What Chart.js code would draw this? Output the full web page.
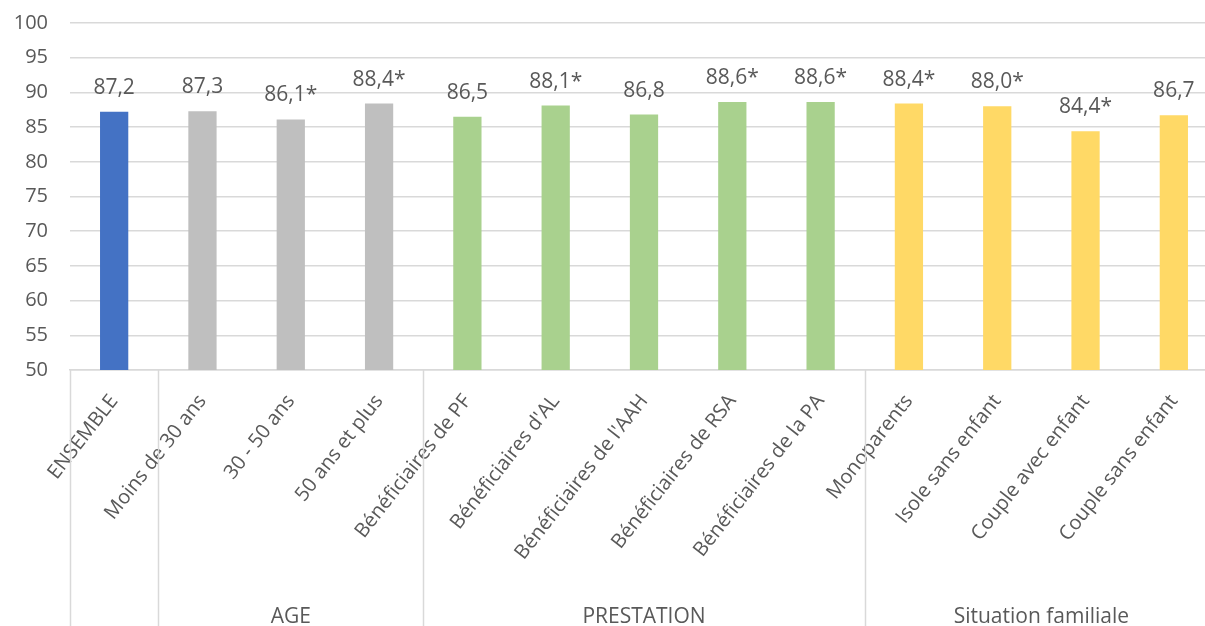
<!DOCTYPE html>
<html>
<head>
<meta charset="utf-8">
<script src="https://cdn.jsdelivr.net/npm/chart.js@4"></script>
<style>
  html, body { margin: 0; padding: 0; background: #fff; overflow: hidden; }
  #wrap { width: 1218px; height: 626px; position: relative; }
</style>
</head>
<body>
<div id="wrap"><canvas id="chart"></canvas></div>
<script>
// DATA
const categories = [
    "ENSEMBLE",
    "Moins de 30 ans", "30 - 50 ans", "50 ans et plus",
    "Bénéficiaires de PF", "Bénéficiaires d'AL", "Bénéficiaires de l'AAH", "Bénéficiaires de RSA", "Bénéficiaires de la PA",
    "Monoparents", "Isole sans enfant", "Couple avec enfant", "Couple sans enfant"
];
const values = [87.2, 87.3, 86.1, 88.4, 86.5, 88.1, 86.8, 88.6, 88.6, 88.4, 88.0, 84.4, 86.7];
const significant = [false, false, true, true, false, true, false, true, true, true, true, true, false];
const groupLabels = ["", "AGE", "PRESTATION", "Situation familiale"];
const groupSizes = [1, 3, 5, 4];
const groupColors = ["#4472C4", "#BFBFBF", "#A9D18E", "#FFD966"];

const yMin = 50, yMax = 100, yStep = 5;

// colour per bar from its group
let barColors = [];
groupSizes.forEach((n, g) => {
    for (let i = 0; i < n; i++) barColors.push(groupColors[g]);
});

const textColor = "#595959";
const lineColor = "#D9D9D9";
const fontFamily = "'Open Sans', 'Liberation Sans', sans-serif";

// VALUE LABELS
const valueLabels = {
    id: "valueLabels",
    afterDatasetsDraw(chart) {
        const ctx = chart.ctx;
        const meta = chart.getDatasetMeta(0);
        ctx.save();
        ctx.fillStyle = textColor;
        ctx.font = "21px " + fontFamily;
        ctx.textAlign = "center";
        ctx.textBaseline = "alphabetic";
        meta.data.forEach((bar, i) => {
            let txt = values[i].toFixed(1).replace(".", ",") + (significant[i] ? "*" : "");
            ctx.fillText(txt, bar.x, bar.y - 18);
        });
        ctx.restore();
    }
};

// GROUP SEPARATORS + GROUP NAMES
const groupAxis = {
    id: "groupAxis",
    afterDraw(chart) {
        const ctx = chart.ctx;
        const x = chart.scales.x;
        const area = chart.chartArea;
        const step = (x.right - x.left) / categories.length;
        ctx.save();
        ctx.strokeStyle = lineColor;
        ctx.lineWidth = 1.5;
        let idx = 0;
        let bounds = [0];
        groupSizes.forEach(n => { idx += n; bounds.push(idx); });
        bounds.forEach(b => {
            let px = Math.round(x.left + b * step) + 0.5;
            ctx.beginPath();
            ctx.moveTo(px, area.bottom);
            ctx.lineTo(px, chart.height);
            ctx.stroke();
        });
        ctx.fillStyle = textColor;
        ctx.font = "21px " + fontFamily;
        ctx.textAlign = "center";
        ctx.textBaseline = "middle";
        groupLabels.forEach((lbl, g) => {
            if (!lbl) return;
            let mid = x.left + (bounds[g] + bounds[g + 1]) / 2 * step;
            ctx.fillText(lbl, mid, 617);
        });
        ctx.restore();
    }
};

new Chart(document.getElementById("chart"), {
    type: "bar",
    data: {
        labels: categories,
        datasets: [{
            data: values,
            backgroundColor: barColors,
            borderWidth: 0,
            barPercentage: 0.32,
            categoryPercentage: 1
        }]
    },
    options: {
        responsive: true,
        maintainAspectRatio: false,
        animation: false,
        layout: { padding: { top: 23, left: 0, right: 0, bottom: 0 } },
        plugins: {
            legend: { display: false },
            tooltip: { enabled: false }
        },
        scales: {
            x: {
                grid: { display: false, drawTicks: false },
                border: { color: lineColor, width: 1.5 },
                ticks: {
                    color: textColor,
                    font: { size: 20, family: fontFamily },
                    minRotation: 52,
                    maxRotation: 52,
                    autoSkip: false,
                    padding: 20
                },
                afterFit: s => { s.height = 256; }
            },
            y: {
                min: yMin,
                max: yMax,
                grid: { color: lineColor, lineWidth: 1.5, drawTicks: false },
                border: { display: false },
                ticks: {
                    stepSize: yStep,
                    color: textColor,
                    font: { size: 20, family: fontFamily },
                    padding: 22
                },
                afterFit: s => {
                    s.width = 70;
                    s.paddingTop = 0;
                    s.paddingBottom = 0;
                }
            }
        }
    },
    plugins: [valueLabels, groupAxis]
});
</script>
</body>
</html>
